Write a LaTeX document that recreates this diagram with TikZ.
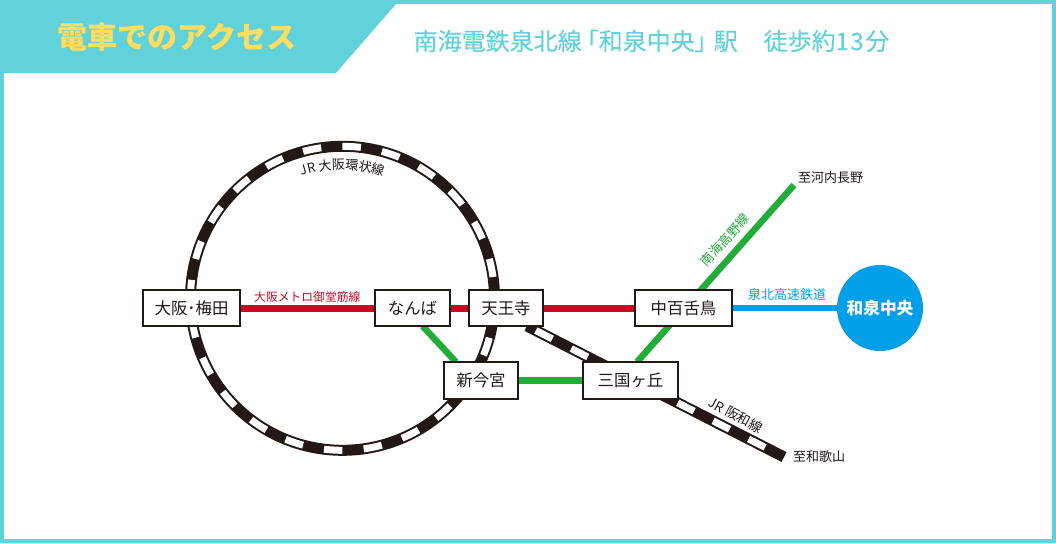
\documentclass[tikz,border=0pt]{standalone}
\usepackage{fontspec}
\setmainfont{Noto Sans CJK JP}
\newfontfamily\subfont[RawFeature={+palt},FakeBold=0.25]{Noto Sans CJK JP}
\usetikzlibrary{positioning,backgrounds,decorations.text}
\definecolor{frameteal}{HTML}{61D2DA}
\definecolor{titleyellow}{HTML}{FFDD5F}
\definecolor{midored}{HTML}{C30D23}
\definecolor{nankaigreen}{HTML}{22AC38}
\definecolor{senbokublue}{HTML}{009FE8}
\definecolor{trackblack}{HTML}{231815}
\tikzset{
station/.style={draw=trackblack,fill=white,line width=1.5pt,outer sep=0pt,inner sep=0pt,minimum height=36pt,font=\fontsize{16.4}{17}\selectfont,text=trackblack},
midoline/.style={draw=midored,line width=7pt},
greenline/.style={draw=nankaigreen,line width=6.5pt},
blueline/.style={draw=senbokublue,line width=6pt},
trackblk/.style={draw=trackblack,line width=11pt},
trackwht/.style={draw=white,line width=7pt,dash pattern=on 18.5pt off 21.29pt},
smalllabel/.style={inner sep=0pt,font=\fontsize{13}{13}\selectfont},
}
\begin{document}
\begin{tikzpicture}[x=1pt,y=-1pt]
\useasboundingbox (0,0) rectangle (1056,543);
\draw[frameteal,line width=4pt] (2,2) rectangle (1054,541);
\fill[frameteal] (0,0) -- (399.5,0) -- (336,73) -- (0,73) -- cycle;
\node[font=\fontsize{30}{30}\selectfont\bfseries,text=titleyellow,inner sep=0pt] (title) at (177,37) {電車でのアクセス};
\node[font=\fontsize{24}{24}\selectfont\subfont,text=frameteal,inner sep=0pt] (subtitle) at (651.5,41) {南海電鉄泉北線\kern5pt「和泉中央」\kern7pt駅　\kern2pt徒歩約1\kern1.5pt3\kern1.5pt分};
\node[station,minimum width=97pt] (umeda) at (191.5,308) {大阪･梅田};
\node[station,minimum width=75pt,right=135pt of umeda] (namba) {なんば};
\node[station,minimum width=74pt,right=19pt of namba] (tennoji) {天王寺};
\node[station,minimum width=97pt,right=92pt of tennoji] (nakamozu) {中百舌鳥};
\node[circle,fill=senbokublue,inner sep=0pt,minimum size=86pt,font=\fontsize{16.7}{17}\selectfont\bfseries,text=white] (izumi) at (880,308) {和泉中央};
\node[station,minimum width=74pt,minimum height=37pt] (shinimamiya) at (481,380.5) {新今宮};
\node[station,minimum width=95pt,minimum height=37pt,right=65pt of shinimamiya] (mikunigaoka) {三国ヶ丘};
\coordinate (loopc) at (342.5,298.3);
\coordinate (kawachi) at (794,185);
\coordinate (wakayama) at (784,457);
\node[smalllabel,anchor=west,text=trackblack] (tokawachi) at (798,178) {至河内長野};
\node[smalllabel,anchor=west,text=trackblack] (towakayama) at (793,457) {至和歌山};
\node[smalllabel,font=\fontsize{11.8}{12}\selectfont,text=midored,above=5pt of umeda.east,anchor=south west,xshift=14pt] (midolabel) {大阪メトロ御堂筋線};
\node[smalllabel,text=senbokublue] (senbokulabel) at (787,295) {泉北高速鉄道};
\node[smalllabel,text=nankaigreen,rotate=48] (koyalabel) at (725,240) {南海高野線};
\node[smalllabel,font=\fontsize{13.5}{14}\selectfont,text=trackblack,rotate=-28] (hanwalabel) at (736,415) {JR 阪和線};
\begin{scope}[on background layer]
\draw[trackblk] (loopc) circle (152pt);
\draw[trackwht,dash phase=18.4pt] (loopc) circle (152pt);
\draw[trackblk] ([xshift=-16pt]tennoji.south east) -- (wakayama);
\draw[trackwht,dash phase=18.5pt] (wakayama) -- ([xshift=-16pt]tennoji.south east);
\draw[midoline] (umeda) -- (namba);
\draw[midoline] (namba) -- (tennoji);
\draw[midoline] (tennoji) -- (nakamozu);
\draw[blueline] (nakamozu) -- (izumi);
\draw[greenline] ([xshift=10pt]namba.south) -- ([xshift=-25pt]shinimamiya.north);
\draw[greenline] (shinimamiya) -- (mikunigaoka);
\draw[greenline] ([xshift=6.5pt]mikunigaoka.north) -- (kawachi);
\end{scope}
\path[decorate,decoration={text along path,text align=center,text={|\fontsize{13}{13}\selectfont\color{trackblack}|JR 大阪環状線}}] (288,181.4) arc[start angle=115,end angle=65,radius=129pt];
\end{tikzpicture}
\end{document}
